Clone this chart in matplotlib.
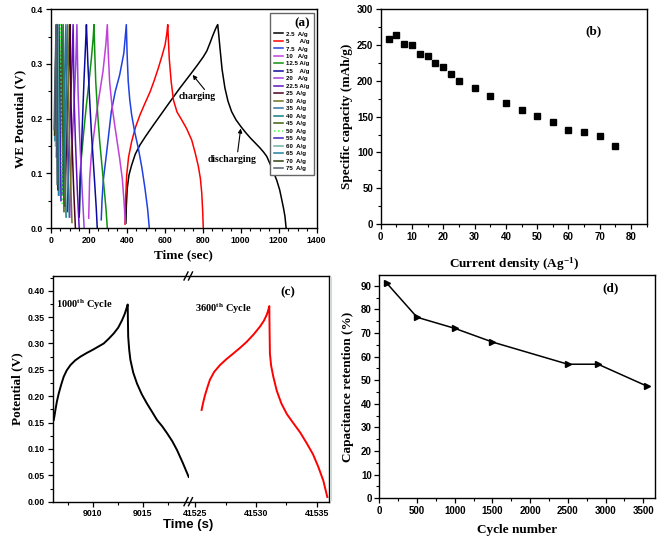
import matplotlib
matplotlib.use("Agg")
import matplotlib.pyplot as plt
from matplotlib.lines import Line2D
from matplotlib.ticker import MultipleLocator, FormatStrFormatter

plt.rcParams['font.family'] = ['Liberation Sans', 'DejaVu Sans']
plt.rcParams['font.weight'] = 'bold'
plt.rcParams['mathtext.fontset'] = 'custom'
plt.rcParams['mathtext.rm'] = 'Liberation Serif:bold'
plt.rcParams['mathtext.it'] = 'Liberation Serif:italic:bold'
plt.rcParams['mathtext.bf'] = 'Liberation Serif:bold'
plt.rcParams['mathtext.default'] = 'rm'

SERIF = 'Liberation Serif'

# ---------------- Panel (a): GCD curves ----------------
legend_labels = ["2.5  A/g", "5      A/g", "7.5  A/g", "10   A/g", "12.5 A/g", "15    A/g",
                 "20   A/g", "22.5 A/g", "25  A/g", "30  A/g", "35  A/g", "40  A/g", "45  A/g",
                 "50  A/g", "55  A/g", "60  A/g", "65  A/g", "70  A/g", "75  A/g"]
curve_colors = ["#000000", "#ff0000", "#2040e0", "#c040d8", "#109010", "#0a0aa0",
                "#a040e0", "#6010c0", "#4a0020", "#707020", "#3070a0", "#108080", "#406010",
                "#40ff40", "#4020c0", "#70b0a0", "#2080a0", "#304010", "#506070"]

t_2p5 = [396, 398, 403, 412, 426, 445, 470, 500, 540, 585, 628, 680, 733, 770, 803, 822, 838, 852, 865, 874, 879,
         884, 891, 902, 917, 933, 952, 975, 1000, 1025, 1050, 1075, 1100, 1120, 1137, 1160, 1189, 1205, 1216, 1226, 1233, 1239]
v_2p5 = [0.009, 0.040, 0.073, 0.097, 0.115, 0.135, 0.152, 0.168, 0.188, 0.210, 0.231, 0.256, 0.280, 0.297, 0.313, 0.324, 0.338, 0.351, 0.362, 0.369, 0.372,
         0.355, 0.329, 0.290, 0.256, 0.232, 0.213, 0.198, 0.186, 0.175, 0.165, 0.156, 0.147, 0.139, 0.131, 0.113, 0.088, 0.070, 0.052, 0.035, 0.021, 0.0]
t_5 = [391, 394, 400, 410, 426, 446, 470, 496, 523, 545, 566, 586, 602, 611, 616, 620, 624, 634, 646, 665, 689, 715, 742, 760, 777, 788, 795, 800, 803]
v_5 = [0.007, 0.050, 0.097, 0.130, 0.158, 0.184, 0.207, 0.228, 0.249, 0.270, 0.292, 0.315, 0.335, 0.355, 0.372, 0.340, 0.310, 0.268, 0.234, 0.212, 0.198, 0.182, 0.161, 0.138, 0.113, 0.090, 0.064, 0.030, 0.0]
t_7p5 = [266, 270, 277, 293, 319, 340, 363, 385, 398, 402, 408, 416, 426, 442, 461, 480, 496, 510, 519]
v_7p5 = [0.015, 0.050, 0.088, 0.134, 0.213, 0.250, 0.280, 0.320, 0.372, 0.320, 0.268, 0.235, 0.207, 0.176, 0.146, 0.110, 0.073, 0.035, 0.0]
t_10 = [200, 205, 214, 240, 258, 275, 290, 298, 303, 310, 322, 337, 363, 377, 386, 393]
v_10 = [0.018, 0.090, 0.134, 0.207, 0.248, 0.286, 0.335, 0.372, 0.320, 0.268, 0.225, 0.188, 0.127, 0.090, 0.048, 0.009]
t_12p5 = [151, 155, 161, 175, 188, 200, 214, 223, 228, 232, 237, 247, 258, 270, 281, 291, 298]
v_12p5 = [0.027, 0.085, 0.127, 0.180, 0.225, 0.262, 0.310, 0.345, 0.372, 0.320, 0.268, 0.210, 0.158, 0.113, 0.073, 0.035, 0.0]
t_15 = [150, 155, 162, 175, 184, 188, 192, 196, 205, 214, 231, 240, 245]
v_15 = [0.020, 0.090, 0.146, 0.268, 0.340, 0.372, 0.335, 0.298, 0.235, 0.176, 0.085, 0.035, 0.0]
t_20 = [100, 108, 122, 132, 138, 144, 152, 164, 176]
v_20 = [0.02, 0.12, 0.22, 0.30, 0.372, 0.25, 0.17, 0.08, 0.0]
t_22p5 = [88, 95, 104, 112, 118, 123, 130, 140, 150]
v_22p5 = [0.03, 0.13, 0.22, 0.30, 0.372, 0.24, 0.16, 0.07, 0.0]
t_25 = [75, 82, 90, 97, 102, 106, 112, 121, 130]
v_25 = [0.04, 0.14, 0.23, 0.31, 0.372, 0.24, 0.16, 0.07, 0.0]
t_30 = [68, 80, 90, 98, 112]
v_30 = [0.05, 0.24, 0.372, 0.16, 0.01]
t_35 = [60, 71, 80, 87, 98]
v_35 = [0.06, 0.24, 0.372, 0.17, 0.02]
t_40 = [48, 58, 66, 72, 81]
v_40 = [0.08, 0.25, 0.372, 0.17, 0.02]
t_45 = [42, 51, 58, 63, 70]
v_45 = [0.10, 0.26, 0.372, 0.18, 0.03]
t_50 = [36, 44, 50, 55, 61]
v_50 = [0.12, 0.27, 0.372, 0.19, 0.04]
t_55 = [30, 38, 44, 49, 54]
v_55 = [0.13, 0.27, 0.372, 0.19, 0.05]
t_60 = [25, 32, 38, 42, 46]
v_60 = [0.15, 0.28, 0.372, 0.20, 0.06]
t_65 = [22, 28, 34, 38, 41]
v_65 = [0.16, 0.28, 0.372, 0.20, 0.06]
t_70 = [20, 25, 31, 34, 37]
v_70 = [0.17, 0.29, 0.372, 0.21, 0.07]
t_75 = [18, 23, 29, 32, 34]
v_75 = [0.18, 0.29, 0.372, 0.21, 0.08]

gcd_times = [t_2p5, t_5, t_7p5, t_10, t_12p5, t_15, t_20, t_22p5, t_25, t_30, t_35,
             t_40, t_45, t_50, t_55, t_60, t_65, t_70, t_75]
gcd_volts = [v_2p5, v_5, v_7p5, v_10, v_12p5, v_15, v_20, v_22p5, v_25, v_30, v_35,
             v_40, v_45, v_50, v_55, v_60, v_65, v_70, v_75]

# ---------------- Panel (b) ----------------
current_density = [2.5, 5, 7.5, 10, 12.5, 15, 17.5, 20, 22.5, 25, 30, 35, 40, 45, 50, 55, 60, 65, 70, 75]
specific_capacity = [258, 264, 251, 250, 237, 234.6, 225, 219, 209, 200, 189.7, 179.4, 169, 159, 150.5, 142, 131.8, 128.5, 123, 108.4]

# ---------------- Panel (c) ----------------
t_c1000 = [9006.1, 9006.18, 9006.27, 9006.42, 9006.6, 9006.85, 9007.1, 9007.4, 9007.77, 9008.25, 9008.77, 9009.4, 9010.0,
           9010.55, 9011.1, 9011.6, 9012.1, 9012.55, 9012.93, 9013.2, 9013.37, 9013.5,
           9013.52, 9013.55, 9013.65, 9013.77, 9014.05, 9014.43, 9014.9, 9015.43, 9015.95, 9016.43, 9016.95, 9017.43,
           9017.95, 9018.43, 9019.0, 9019.6]
v_c1000 = [0.155, 0.163, 0.174, 0.190, 0.205, 0.222, 0.237, 0.249, 0.259, 0.268, 0.275, 0.282, 0.288,
           0.294, 0.300, 0.309, 0.319, 0.330, 0.344, 0.356, 0.366, 0.374,
           0.345, 0.313, 0.288, 0.269, 0.245, 0.224, 0.204, 0.186, 0.170, 0.155, 0.143, 0.130,
           0.115, 0.098, 0.074, 0.047]
t_c3600 = [41525.52, 41525.65, 41525.8, 41526.0, 41526.2, 41526.55, 41527.03, 41527.55, 41528.13, 41528.7, 41529.23,
           41529.8, 41530.33, 41530.65, 41530.88, 41531.0, 41531.1,
           41531.12, 41531.15, 41531.25, 41531.43, 41531.72, 41532.1, 41532.55, 41533.08, 41533.65, 41534.18,
           41534.7, 41535.14, 41535.55, 41535.88]
v_c3600 = [0.174, 0.188, 0.202, 0.217, 0.231, 0.246, 0.259, 0.270, 0.281, 0.292, 0.303,
           0.317, 0.332, 0.343, 0.354, 0.362, 0.371,
           0.330, 0.281, 0.258, 0.237, 0.210, 0.186, 0.166, 0.149, 0.131, 0.111,
           0.090, 0.066, 0.040, 0.009]

# ---------------- Panel (d) ----------------
cycle_number = [100, 500, 1000, 1500, 2500, 2900, 3550]
retention = [91.1, 76.7, 72.0, 66.2, 56.8, 56.8, 47.5]

W, H = 661, 541
fig = plt.figure(figsize=(W / 100, H / 100), dpi=100)


def rect(l, t, r, b):
    return [l / W, (H - b) / H, (r - l) / W, (b - t) / H]


def style(ax, size=6.5):
    for s in ax.spines.values():
        s.set_linewidth(1.0)
    ax.tick_params(which='major', direction='out', length=3.5, width=0.9, labelsize=size, pad=2)
    ax.tick_params(which='minor', direction='out', length=2, width=0.8)
    ax.tick_params(top=False, right=False)


# ---- (a)
axa = fig.add_axes(rect(50.7, 9.3, 316.7, 228))
handles = []
for i in range(len(gcd_times)):
    ls = ':' if legend_labels[i].startswith('50') else '-'
    ln, = axa.plot(gcd_times[i], gcd_volts[i], color=curve_colors[i], lw=1.1, ls=ls)
    handles.append(ln)
axa.set_xlim(0, 1400)
axa.set_ylim(0, 0.4)
axa.xaxis.set_major_locator(MultipleLocator(200))
axa.xaxis.set_minor_locator(MultipleLocator(50))
axa.yaxis.set_major_locator(MultipleLocator(0.1))
axa.yaxis.set_minor_locator(MultipleLocator(0.05))
axa.yaxis.set_major_formatter(FormatStrFormatter('%.1f'))
style(axa, 6.3)
axa.set_xlabel('Time (sec)', family=SERIF, weight='bold', fontsize=9.5, labelpad=3)
axa.set_ylabel('WE Potential (V)', family=SERIF, weight='bold', fontsize=9.5, labelpad=3)
leg = axa.legend(handles, legend_labels, loc='upper right', bbox_to_anchor=(0.99, 0.984),
                 borderaxespad=0, title='(a)',
                 title_fontproperties={'family': SERIF, 'weight': 'bold', 'size': 9.5},
                 prop={'family': 'Liberation Sans', 'weight': 'bold', 'size': 4.4},
                 handlelength=1.4, handletextpad=0.6, labelspacing=0.36, fancybox=False,
                 framealpha=1, edgecolor='#666666', borderpad=0.7, alignment='right')
leg.get_frame().set_linewidth(1.0)
axa.annotate('charging', xy=(747, 0.280), xytext=(675, 0.240), fontsize=7, family=SERIF,
             weight='bold', va='center',
             arrowprops=dict(arrowstyle='-|>', color='black', lw=0.8, mutation_scale=6,
                             shrinkA=0, shrinkB=0, relpos=(0.75, 1.0)))
axa.annotate('discharging', xy=(1000, 0.182), xytext=(828, 0.126), fontsize=7, family=SERIF,
             weight='bold', va='center',
             arrowprops=dict(arrowstyle='-|>', color='black', lw=0.8, mutation_scale=6,
                             shrinkA=0, shrinkB=0, relpos=(0.6, 1.0)))

# ---- (b)
axb = fig.add_axes(rect(380.7, 9.3, 646.7, 224))
axb.plot(current_density, specific_capacity, ls='none', marker='s', ms=4, color='black')
axb.set_xlim(0, 85)
axb.set_ylim(0, 300)
axb.xaxis.set_major_locator(MultipleLocator(10))
axb.xaxis.set_minor_locator(MultipleLocator(5))
axb.yaxis.set_major_locator(MultipleLocator(50))
axb.yaxis.set_minor_locator(MultipleLocator(25))
style(axb, 7)
axb.set_xlabel('Current density (Ag$^{-1}$)', family=SERIF, weight='bold', fontsize=9.5, labelpad=10)
axb.set_ylabel('Specific capacity (mAh/g)', family=SERIF, weight='bold', fontsize=9.5, labelpad=3)
axb.text(68.1, 268.7, '(b)', family=SERIF, weight='bold', fontsize=9.5, ha='center', va='center')

# ---- (c) broken axis
split = 188.5
axc1 = fig.add_axes(rect(52.7, 276, split, 501.7))
axc2 = fig.add_axes(rect(split, 276, 329, 501.7), sharey=axc1)
axc1.plot(t_c1000, v_c1000, color='black', lw=1.4)
axc2.plot(t_c3600, v_c3600, color='#ff0000', lw=1.4)
axc1.set_xlim(9006.0, 9019.58)
axc2.set_xlim(41524.44, 41536.02)
axc1.set_ylim(0, 0.428)
axc1.yaxis.set_major_locator(MultipleLocator(0.05))
axc1.yaxis.set_minor_locator(MultipleLocator(0.025))
axc1.yaxis.set_major_formatter(FormatStrFormatter('%.2f'))
for ax in (axc1, axc2):
    ax.xaxis.set_major_locator(MultipleLocator(5))
    ax.xaxis.set_minor_locator(MultipleLocator(2.5))
    ax.xaxis.set_major_formatter(FormatStrFormatter('%d'))
    style(ax, 6.3)
    ax.tick_params(axis='x', pad=1.5)
axc1.spines['right'].set_visible(False)
axc2.spines['left'].set_visible(False)
axc2.tick_params(axis='y', which='both', left=False, labelleft=False)
axc1.set_ylabel('Potential (V)', family=SERIF, weight='bold', fontsize=9.5, labelpad=3)
fig.text(split / W, (H - 525) / H, 'Time (s)', ha='center', va='center', fontsize=9.5, weight='bold')
axc1.text(9006.35, 0.373, '1000$^{th}$ Cycle', fontsize=7.5, family=SERIF, weight='bold', va='center')
axc2.text(41524.95, 0.365, '3600$^{th}$ Cycle', fontsize=7.5, family=SERIF, weight='bold', va='center')
axc2.text(41532.6, 0.398, '(c)', fontsize=9.5, family=SERIF, weight='bold', ha='center', va='center')
for yb in (276, 501.7):
    for xb in (186.0, 190.5):
        fig.add_artist(Line2D([(xb - 2) / W, (xb + 2) / W], [(H - yb - 4) / H, (H - yb + 4) / H],
                              color='black', lw=1.0))

# ---- (d)
axd = fig.add_axes(rect(379.3, 275, 655, 498.3))
axd.plot(cycle_number, retention, color='black', lw=1.1, marker='>', ms=5)
axd.set_xlim(0, 3655)
axd.set_ylim(0, 94.6)
axd.xaxis.set_major_locator(MultipleLocator(500))
axd.xaxis.set_minor_locator(MultipleLocator(250))
axd.yaxis.set_major_locator(MultipleLocator(10))
axd.yaxis.set_minor_locator(MultipleLocator(5))
style(axd, 7)
axd.set_xlabel('Cycle number', family=SERIF, weight='bold', fontsize=9.5, labelpad=6)
axd.set_ylabel('Capacitance retention (%)', family=SERIF, weight='bold', fontsize=9.5, labelpad=5)
axd.text(3060, 89, '(d)', fontsize=9.5, family=SERIF, weight='bold', ha='center', va='center')

fig.add_artist(Line2D([331 / W, 331 / W], [(H - 500) / H, (H - 278) / H], color='#d0d8d8', lw=1.5))

fig.savefig('out.png', dpi=100)
